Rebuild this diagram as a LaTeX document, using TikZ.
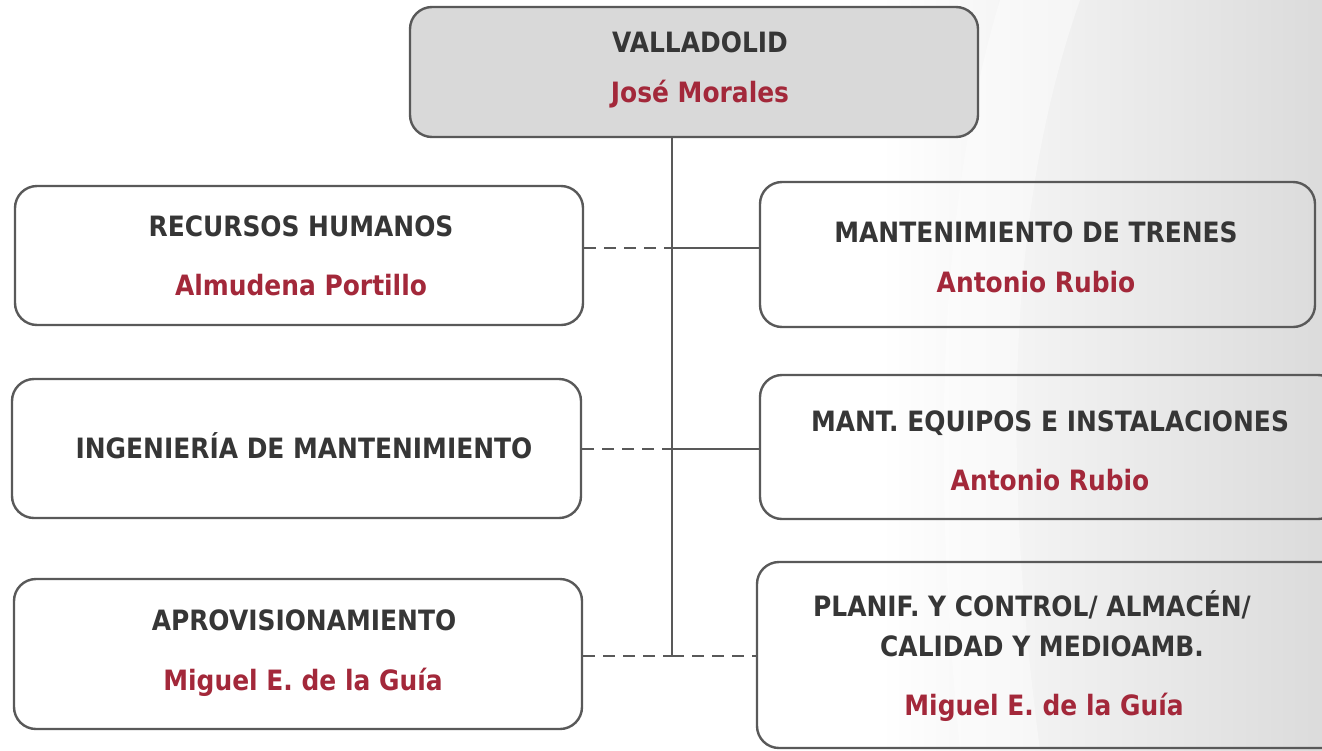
\documentclass[tikz,border=0pt]{standalone}
\usepackage{fontspec}
\setmainfont{DejaVu Sans}[FakeStretch=0.89]
\usetikzlibrary{calc}
\definecolor{linegray}{HTML}{595959}
\definecolor{titlegray}{HTML}{363636}
\definecolor{namered}{HTML}{A3283A}
\definecolor{topfill}{HTML}{D9D9D9}
\tikzset{
  box/.style={draw=linegray, line width=2.4pt, rounded corners=22pt, inner sep=0pt},
  titletext/.style={text=titlegray, font=\fontsize{28}{32}\selectfont\bfseries, inner sep=0pt, anchor=base},
  nametext/.style={text=namered, font=\fontsize{28}{32}\selectfont\bfseries, inner sep=0pt, anchor=base},
  conn/.style={draw=linegray, line width=2.4pt},
  dconn/.style={conn, dash pattern=on 12pt off 8pt},
}
\begin{document}
\begin{tikzpicture}[x=1pt,y=-1pt]
\clip (0,0) rectangle (1322,750);
\fill[white] (0,0) rectangle (1322,750);
\shade[left color=white, right color=black!14] (880,0) rectangle (1322,750);
\fill[white, opacity=0.4] (1000,0) .. controls (940,200) and (930,450) .. (960,750) -- (1040,750) .. controls (1000,450) and (1010,200) .. (1080,0) -- cycle;
% boxes
\node[box, fill=topfill, minimum width=568pt, minimum height=130pt] (top) at (694,72) {};
\node[box, fill=white, minimum width=568pt, minimum height=139pt] (l1) at (299,255.5) {};
\node[box, fill=white, minimum width=569pt, minimum height=139pt] (l2) at (296.5,448.5) {};
\node[box, fill=white, minimum width=568pt, minimum height=150pt] (l3) at (298,654) {};
\node[box, minimum width=555pt, minimum height=145pt] (r1) at (1037.5,254.5) {};
\node[box, minimum width=580pt, minimum height=144pt] (r2) at (1050,447) {};
\node[box, minimum width=590pt, minimum height=186pt] (r3) at (1052,655) {};
% texts
\node[titletext] (t0) at (700,52) {VALLADOLID};
\node[nametext] (n0) at (700,102) {José Morales};
\node[titletext] (t1) at (301,236) {RECURSOS HUMANOS};
\node[nametext] (n1) at (301,295) {Almudena Portillo};
\node[titletext] (t2) at (304,458) {INGENIERÍA DE MANTENIMIENTO};
\node[titletext] (t3) at (304,630) {APROVISIONAMIENTO};
\node[nametext] (n3) at (303,690) {Miguel E. de la Guía};
\node[titletext] (t4) at (1036,242) {MANTENIMIENTO DE TRENES};
\node[nametext] (n4) at (1036,292) {Antonio Rubio};
\node[titletext] (t5) at (1050,431) {MANT. EQUIPOS E INSTALACIONES};
\node[nametext] (n5) at (1050,490) {Antonio Rubio};
\node[titletext] (t6a) at (1032,616) {PLANIF. Y CONTROL/ ALMACÉN/};
\node[titletext] (t6b) at (1042,656) {CALIDAD Y MEDIOAMB.};
\node[nametext] (n6) at (1044,715) {Miguel E. de la Guía};
% connectors
\coordinate (j1) at (672,248);
\coordinate (j2) at (672,449);
\coordinate (j3) at (672,656);
\draw[conn] (top.south -| j1) -- (j3);
\draw[dconn] (l1.east |- j1) -- (j1);
\draw[conn] (j1) -- (r1.west |- j1);
\draw[dconn] (l2.east |- j2) -- (j2);
\draw[conn] (j2) -- (r2.west |- j2);
\draw[dconn] (l3.east |- j3) -- (j3);
\draw[dconn] (j3) -- (r3.west |- j3);
\end{tikzpicture}
\end{document}
